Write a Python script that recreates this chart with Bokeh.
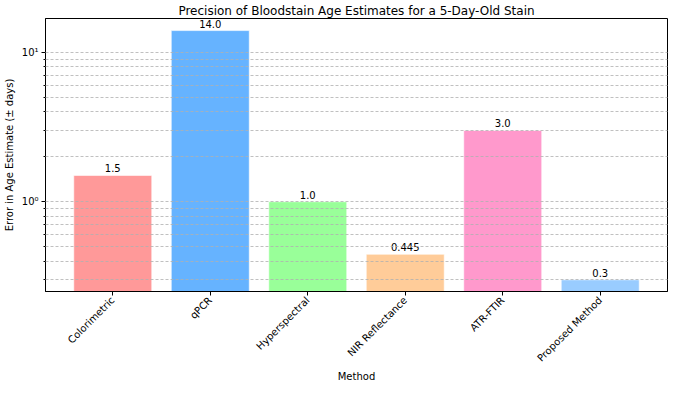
from bokeh.plotting import figure
from bokeh.models import FixedTicker, ColumnDataSource, Range1d
from bokeh.core.properties import value
from bokeh.embed import file_html
from bokeh.resources import INLINE
import math

methods = ["Colorimetric", "qPCR", "Hyperspectral", "NIR Reflectance", "ATR-FTIR", "Proposed Method"]
errors = [1.5, 14.0, 1.0, 0.445, 3.0, 0.3]
value_labels = ["1.5", "14.0", "1.0", "0.445", "3.0", "0.3"]
colors = ["#ff9999", "#66b3ff", "#99ff99", "#ffcc99", "#ff99cc", "#99ccff"]
y_major_ticks = [1, 10]
y_major_labels = ["10\u2070", "10\u00b9"]
y_minor_ticks = [0.3, 0.4, 0.5, 0.6, 0.7, 0.8, 0.9, 2, 3, 4, 5, 6, 7, 8, 9]

FONT = "DejaVu Sans"
xs = list(range(len(methods)))

src = ColumnDataSource(dict(x=xs, top=errors, bottom=[0.01] * len(errors),
                            color=colors, label=value_labels))

p = figure(width=669, height=384, output_backend="svg", toolbar_location=None,
           y_axis_type="log", x_range=Range1d(-0.69, 5.69), y_range=Range1d(0.2505, 16.87),
           min_border_left=32, min_border_right=2, min_border_top=8, min_border_bottom=0)

p.title.text = "Precision of Bloodstain Age Estimates for a 5-Day-Old Stain"
p.title.align = "center"
p.title.text_font = FONT
p.title.text_font_size = "12px"
p.title.text_font_style = "normal"
p.title.text_color = "black"
p.title.offset = 0
p.title.standoff = 2

p.vbar(x="x", top="top", bottom="bottom", width=0.8, fill_color="color",
       line_color="white", line_alpha=0.6, line_width=1, source=src)

p.text(x="x", y="top", text="label", source=src, text_align="center",
       text_baseline="bottom", text_font=value(FONT), text_font_size="10px",
       text_color="black", y_offset=-3)

p.xgrid.visible = False
p.ygrid.ticker = FixedTicker(ticks=y_minor_ticks + y_major_ticks)
p.ygrid.grid_line_color = "#b0b0b0"
p.ygrid.grid_line_dash = "3 2"
p.ygrid.grid_line_width = 0.8
p.ygrid.level = "overlay"

p.xaxis.ticker = FixedTicker(ticks=xs)
p.xaxis.major_label_overrides = {i: m for i, m in enumerate(methods)}
p.xaxis.major_label_orientation = math.pi / 4
p.xaxis.axis_label = "Method"
p.xaxis.minor_tick_line_color = None

p.yaxis.ticker = FixedTicker(ticks=y_major_ticks, minor_ticks=y_minor_ticks)
p.yaxis.major_label_overrides = {t: l for t, l in zip(y_major_ticks, y_major_labels)}
p.yaxis.axis_label = "Error in Age Estimate (\u00b1 days)"

for ax in (p.xaxis[0], p.yaxis[0]):
    ax.axis_label_text_font = FONT
    ax.axis_label_text_font_size = "10px"
    ax.axis_label_text_font_style = "normal"
    ax.axis_label_text_color = "black"
    ax.major_label_text_font = FONT
    ax.major_label_text_font_size = "10px"
    ax.major_label_text_color = "black"
    ax.axis_line_color = "black"
    ax.major_tick_line_color = "black"
    ax.minor_tick_line_color = "black"
    ax.major_tick_out = 4
    ax.major_tick_in = 0
    ax.minor_tick_out = 2
    ax.minor_tick_in = 0
    ax.major_label_standoff = 3

p.xaxis[0].minor_tick_line_color = None
p.xaxis[0].axis_label_standoff = 0
p.yaxis[0].axis_label_standoff = 4

p.outline_line_color = "black"
p.outline_line_width = 1
p.background_fill_color = "white"

open("out.html", "w").write(file_html(p, INLINE))
